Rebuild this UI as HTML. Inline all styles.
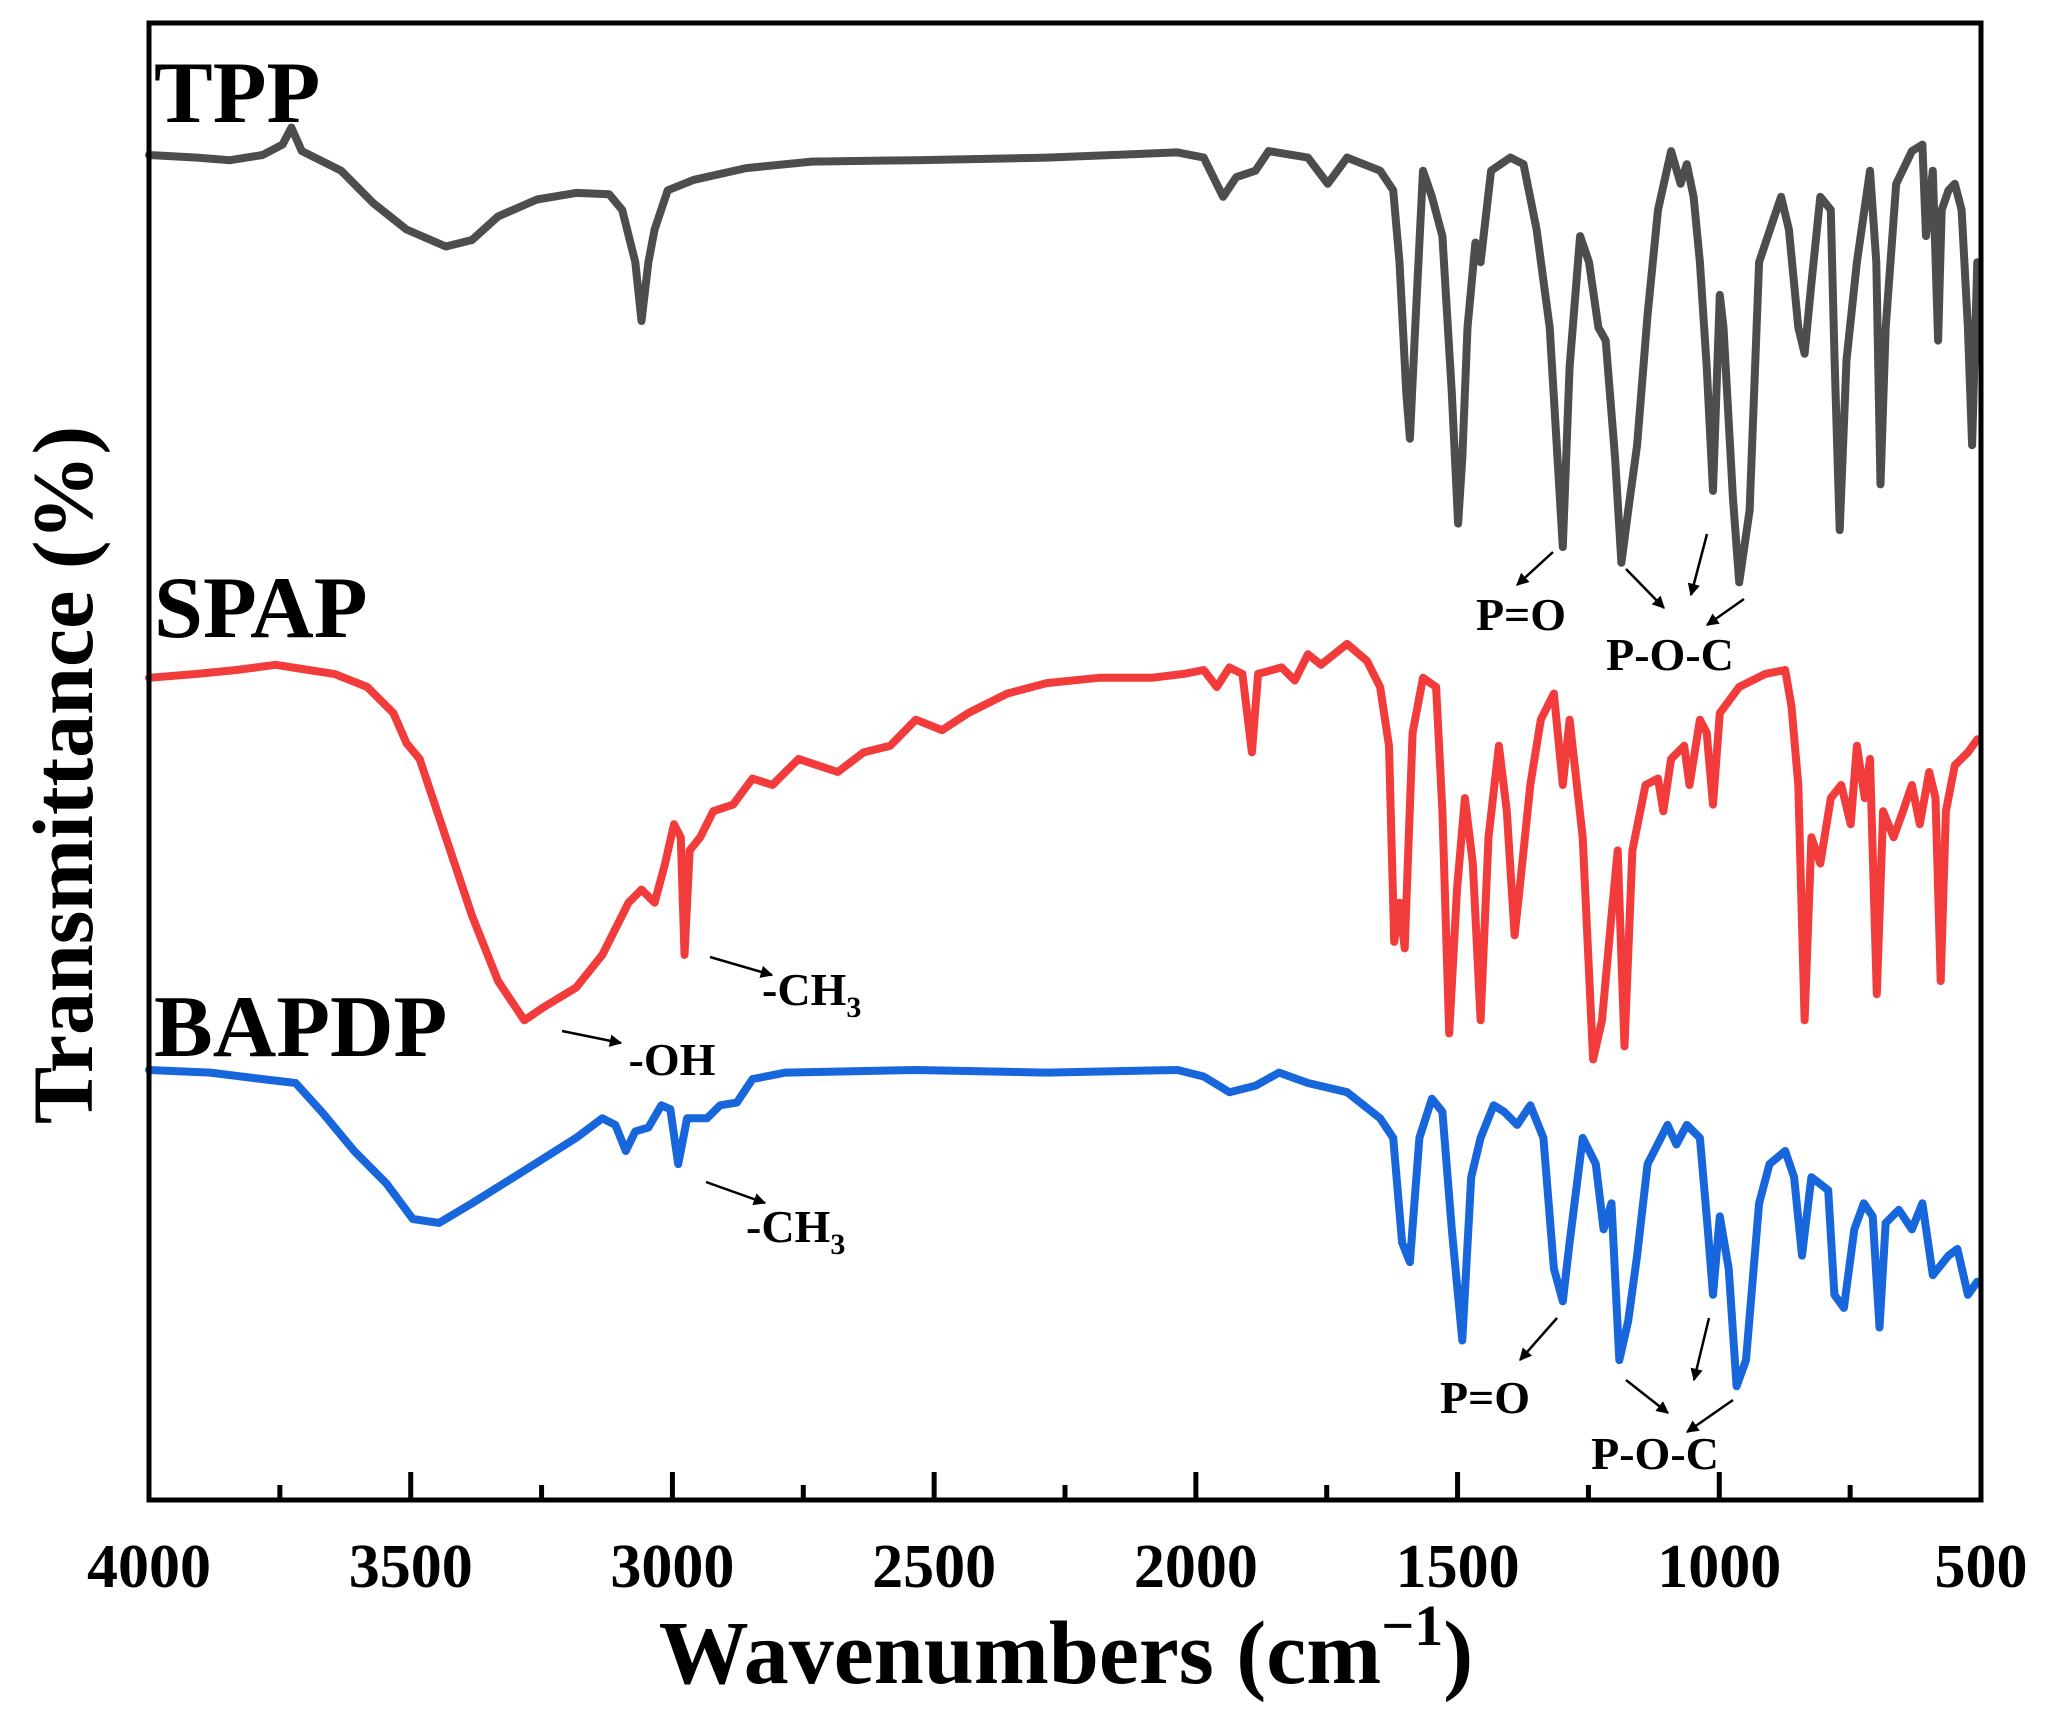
<!DOCTYPE html>
<html><head><meta charset="utf-8"><style>
html,body{margin:0;padding:0;background:#fff}
svg{display:block}
text{font-family:"Liberation Serif",serif;font-weight:bold;fill:#000}
</style></head><body>
<svg id="c" width="2051" height="1721" viewBox="0 0 2051 1721">
<defs><marker id="ah" viewBox="0 0 10 10" refX="9" refY="5" markerWidth="5" markerHeight="5" orient="auto"><path d="M0,0 L10,5 L0,10 z" fill="#000"/></marker></defs>
<g id="series"></g>
<g id="axes"></g>
<g id="labels">
<text x="154" y="122" font-size="88">TPP</text>
<text x="154" y="637" font-size="88">SPAP</text>
<text x="154" y="1056" font-size="88">BAPDP</text>
<text x="1521" y="630" font-size="46" text-anchor="middle">P=O</text>
<text x="1670" y="670" font-size="46" text-anchor="middle">P-O-C</text>
<text x="1485" y="1413" font-size="46" text-anchor="middle">P=O</text>
<text x="1655" y="1469" font-size="46" text-anchor="middle">P-O-C</text>
<text x="672" y="1075" font-size="46" text-anchor="middle">-OH</text>
<text x="762" y="1005" font-size="46">-CH<tspan font-size="30" dy="12">3</tspan></text>
<text x="746" y="1242" font-size="46">-CH<tspan font-size="30" dy="12">3</tspan></text>
</g>
<g id="arrows" stroke="#000" stroke-width="2.5" marker-end="url(#ah)">
<line x1="1553" y1="552" x2="1517" y2="585"/>
<line x1="1626" y1="569" x2="1664" y2="608"/>
<line x1="1707" y1="534" x2="1691" y2="595"/>
<line x1="1744" y1="599" x2="1707" y2="625"/>
<line x1="562" y1="1031" x2="621" y2="1043"/>
<line x1="710" y1="957" x2="772" y2="975"/>
<line x1="706" y1="1182" x2="765" y2="1203"/>
<line x1="1557" y1="1318" x2="1520" y2="1360"/>
<line x1="1626" y1="1380" x2="1668" y2="1413"/>
<line x1="1709" y1="1318" x2="1694" y2="1380"/>
<line x1="1733" y1="1400" x2="1687" y2="1432"/>
</g>
</svg>
<script>
const tppW=[4000,3908,3845,3783,3745,3728,3708,3633,3571,3508,3433,3383,3333,3259,3184,3121,3096,3071,3059,3046,3034,3009,2959,2859,2734,2535,2285,2035,1985,1948,1923,1886,1861,1786,1748,1711,1648,1623,1611,1598,1591,1581,1566,1549,1529,1511,1499,1491,1481,1466,1456,1436,1399,1374,1349,1324,1299,1286,1266,1249,1231,1217,1199,1187,1174,1157,1137,1117,1092,1074,1062,1049,1037,1024,1012,999,992,974,962,942,924,899,882,867,849,837,825,807,787,780,770,757,737,712,700,692,682,662,632,612,605,592,582,575,562,550,537,525,517,507];
const tppT=[1029,1027,1025,1029,1037,1050,1032,1017,992,972,959,964,982,995,1000,999,987,947,902,947,972,1002,1010,1019,1024,1025,1027,1031,1027,997,1012,1017,1032,1027,1007,1027,1017,1002,947,847,812,897,1017,997,967,847,747,797,897,962,947,1017,1027,1022,972,897,729,867,967,947,897,887,797,717,757,807,907,987,1032,1007,1022,997,947,867,772,922,897,767,702,757,947,977,997,972,897,877,927,997,987,877,742,872,947,1017,947,777,897,1007,1032,1037,967,1017,887,987,1002,1007,987,897,807,947];
const spapW=[4000,3908,3833,3758,3695,3646,3583,3533,3508,3483,3433,3383,3333,3283,3246,3184,3134,3084,3059,3034,3014,2997,2984,2977,2967,2947,2922,2884,2847,2809,2759,2722,2684,2635,2584,2535,2485,2435,2360,2285,2185,2085,2023,1985,1960,1936,1911,1893,1881,1836,1811,1786,1761,1711,1673,1648,1631,1621,1611,1601,1586,1566,1541,1529,1516,1501,1486,1471,1456,1441,1421,1406,1391,1379,1361,1341,1316,1299,1286,1261,1241,1224,1206,1194,1181,1166,1141,1117,1107,1092,1067,1057,1037,1024,1012,999,962,912,874,862,849,837,824,807,787,767,749,737,722,712,699,687,667,649,632,617,599,587,577,567,550,525,507];
const spapT=[629,632,635,639,635,632,622,602,579,567,507,447,397,367,377,392,417,457,467,457,487,517,507,417,497,507,527,532,552,547,567,562,557,572,577,597,589,602,617,625,629,629,632,635,622,637,632,572,632,637,627,647,639,655,642,622,577,427,457,422,587,629,622,527,357,467,537,487,367,507,577,527,432,477,547,597,617,547,597,507,337,367,447,497,347,497,547,552,527,567,577,547,597,587,532,602,622,632,635,607,547,367,507,487,537,547,517,577,537,567,387,527,507,527,547,517,557,537,397,527,562,572,582];
const bapdpW=[4000,3883,3783,3720,3670,3608,3546,3496,3446,3383,3283,3184,3134,3109,3089,3071,3046,3021,3004,2989,2972,2934,2909,2877,2847,2784,2535,2285,2035,1985,1936,1886,1841,1786,1711,1648,1623,1606,1591,1573,1549,1529,1511,1491,1474,1456,1431,1411,1386,1361,1336,1316,1299,1286,1261,1236,1221,1206,1191,1174,1157,1137,1099,1082,1062,1037,1022,1012,999,982,967,949,924,904,874,857,842,824,792,780,762,742,724,707,694,682,657,632,612,592,562,545,525,507];
const bapdpT=[329,327,322,319,297,267,242,215,212,227,252,277,292,287,267,282,285,302,299,257,292,292,302,304,322,327,329,327,329,324,312,317,327,319,312,292,277,197,182,277,307,297,207,122,247,277,302,297,287,302,277,177,152,197,277,257,207,227,107,137,187,257,287,272,287,277,207,157,217,177,87,107,227,257,267,247,187,247,237,157,147,207,227,217,132,212,222,207,227,172,187,192,157,167];
const xTicks=[4000,3500,3000,2500,2000,1500,1000,500];
const xMinor=[3750,3250,2750,2250,1750,1250,750];
const NS='http://www.w3.org/2000/svg';
const L=149,R=1981,T=23,B=1500;
function xs(w){return L+(4000-w)/3500*(R-L);}
function ys(v){return B-v/1130*(B-T);}
const sg=document.getElementById('series'),ag=document.getElementById('axes');
function mk(tag,attrs,parent){const e=document.createElementNS(NS,tag);for(const k in attrs)e.setAttribute(k,attrs[k]);parent.appendChild(e);return e;}
function line(W,Tv,color,name){
  let d='';for(let i=0;i<W.length;i++){d+=(i?'L':'M')+xs(W[i]).toFixed(1)+','+ys(Tv[i]).toFixed(1);}
  const p=mk('path',{d:d,fill:'none',stroke:color,'stroke-width':8,'stroke-linejoin':'round','stroke-linecap':'round'},sg);
  
  
}
line(tppW,tppT,'#4d4d4d','series-tpp');
line(spapW,spapT,'#f23c3c','series-spap');
line(bapdpW,bapdpT,'#1766dc','series-bapdp');
const fr=mk('rect',{x:L,y:T,width:R-L,height:B-T,fill:'none',stroke:'#000','stroke-width':5},ag);


xTicks.forEach(t=>{
  mk('line',{x1:xs(t),x2:xs(t),y1:B,y2:B-28,stroke:'#000','stroke-width':5},ag);
  const tx=mk('text',{x:xs(t),y:1587,'font-size':62,'text-anchor':'middle'},ag);
  tx.textContent=t;
  
  
});
xMinor.forEach(t=>{mk('line',{x1:xs(t),x2:xs(t),y1:B,y2:B-15,stroke:'#000','stroke-width':5},ag);});
const xt=mk('text',{x:1066,y:1683,'font-size':90,'text-anchor':'middle'},ag);
xt.innerHTML='Wavenumbers (cm<tspan font-size="58" dy="-38">−1</tspan><tspan dy="38">)</tspan>';


const yt=mk('text',{x:0,y:0,'font-size':86,'text-anchor':'middle',transform:'translate(92,775) rotate(-90)'},ag);
yt.textContent='Transmittance (%)';


</script>
</body></html>
